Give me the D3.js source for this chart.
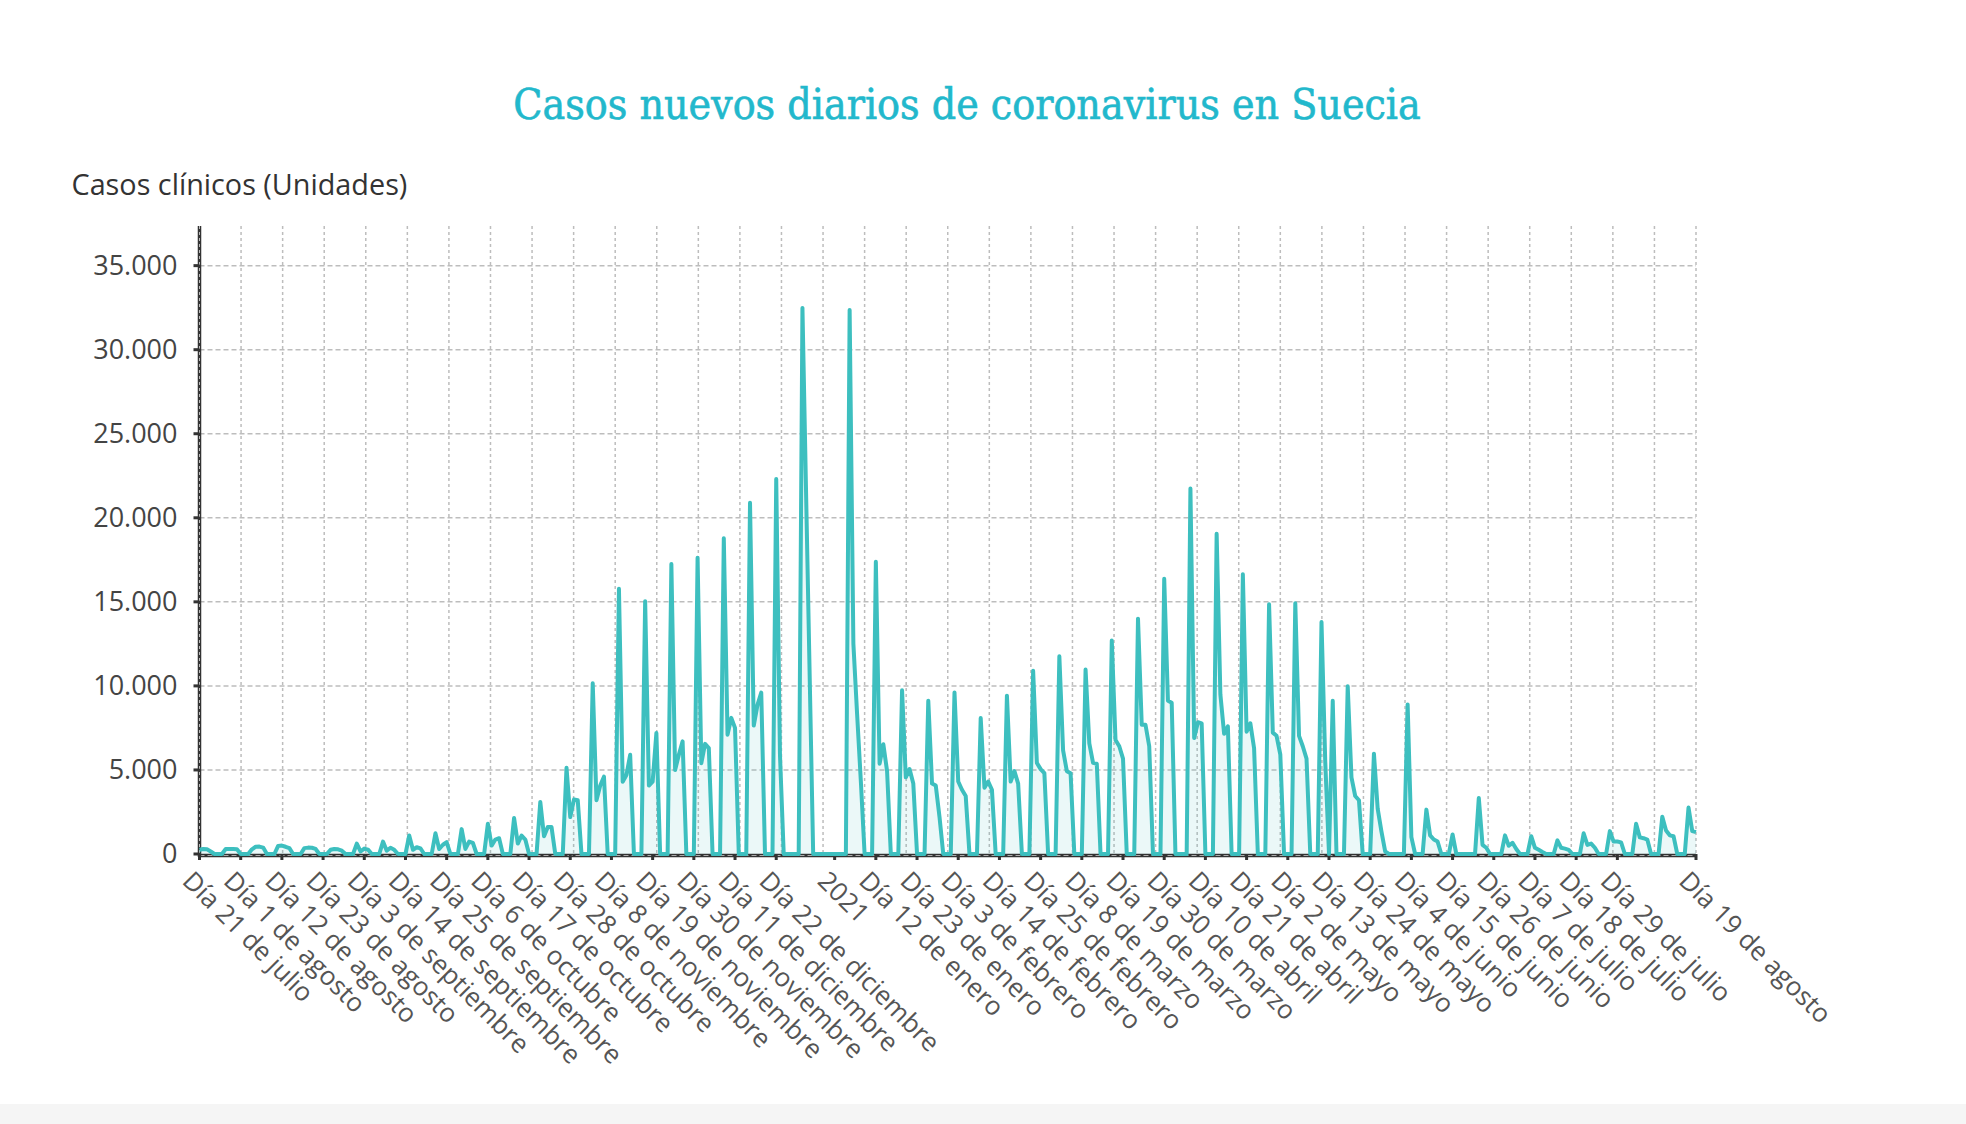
<!DOCTYPE html>
<html>
<head>
<meta charset="utf-8">
<script src="https://cdn.jsdelivr.net/npm/d3@7"></script>
<style>
    body { margin: 0; background: #fff; }
    svg { display: block; }
</style>
</head>
<body>
<svg id="chart"></svg>
<script>
// Casos nuevos diarios, uno por día desde el 21 de julio de 2020 (martes)
const startDate = "2020-07-21";
const dailyCases = [
    250, 300, 280, 150, 0, 0, 0,          // 21 jul
    300, 300, 300, 280, 0, 0, 0,
    280, 430, 440, 380, 0, 0, 0,
    480, 500, 430, 350, 0, 0, 0,
    350, 380, 370, 300, 0, 0, 0,
    250, 300, 280, 200, 0, 0, 0,
    620, 150, 320, 260, 0, 0, 0,          // 1 sep
    740, 200, 370, 250, 0, 0, 0,
    1100, 250, 400, 330, 0, 0, 0,
    1230, 300, 550, 700, 0, 0, 0,
    1480, 300, 740, 665, 0, 0, 0,
    1800, 500, 860, 940, 0, 0, 0,         // 6 oct
    2140, 620, 1100, 860, 0, 0, 0,
    3100, 1050, 1600, 1600, 0, 0, 0,
    5130, 2200, 3250, 3200, 0, 0, 0,
    10150, 3200, 4070, 4600, 0, 0, 0,     // 3 nov
    15780, 4300, 4700, 5900, 0, 0, 0,
    15040, 4070, 4300, 7200, 0, 0, 0,
    17250, 5000, 5900, 6700, 0, 0, 0,
    17625, 5400, 6550, 6300, 0, 0, 0,     // 1 dic
    18780, 7100, 8100, 7500, 0, 0, 0,
    20900, 7640, 8870, 9600, 0, 0, 0,
    22310, 5900, 0, 0, 0, 0, 0,
    32485, 0, 0, 0, 0, 0, 0,
    32365, 12520, 8300, 4300, 0, 0, 0,    // 5 ene
    17380, 5370, 6530, 4930, 0, 0, 0,
    9740, 4560, 5050, 4190, 0, 0, 0,
    9120, 4190, 4070, 2200, 0, 0, 0,
    9610, 4310, 3820, 3450, 0, 0, 0,      // 2 feb
    8085, 3940, 4310, 3820, 0, 0, 0,
    9420, 4310, 4930, 4190, 0, 0, 0,
    10900, 5420, 5050, 4810, 0, 0, 0,
    11760, 6160, 4930, 4810, 0, 0, 0,     // 2 mar
    10970, 6580, 5420, 5370, 0, 0, 0,
    12700, 6780, 6410, 5670, 0, 0, 0,
    14000, 7690, 7690, 6410, 0, 0, 0,
    16370, 9120, 9000, 0, 0, 0, 0,
    21740, 6900, 7840, 7770, 0, 0, 0,     // 6 abr
    19050, 9490, 7150, 7590, 0, 0, 0,
    16640, 7270, 7770, 6290, 0, 0, 0,
    14860, 7220, 7030, 5920, 0, 0, 0,
    14910, 7030, 6410, 5670, 0, 0, 0,     // 4 may
    13800, 5500, 0, 9120, 0, 0, 0,
    9980, 4560, 3450, 3200, 0, 0, 0,
    5970, 2700, 1350, 150, 0, 0, 0,
    0, 0, 8900, 1000, 0, 0, 0,            // 1 jun
    2640, 1110, 860, 740, 0, 0, 0,
    1160, 0, 0, 0, 0, 0, 0,
    3330, 540, 370, 0, 0, 0, 0,
    1110, 490, 665, 300, 0, 0, 0,
    1060, 370, 250, 120, 0, 0, 0,         // 6 jul
    810, 370, 320, 250, 0, 0, 0,
    1230, 540, 620, 370, 0, 0, 0,
    1360, 740, 740, 690, 0, 0, 0,
    1800, 990, 940, 860, 0, 0, 0,         // 3 ago
    2220, 1400, 1110, 1060, 0, 0, 0,
    2760, 1360, 1300                      // 17-19 ago
];

const tickDates = [
    "2020-07-21", "2020-08-01", "2020-08-12", "2020-08-23", "2020-09-03", "2020-09-14",
    "2020-09-25", "2020-10-06", "2020-10-17", "2020-10-28", "2020-11-08", "2020-11-19",
    "2020-11-30", "2020-12-11", "2020-12-22", "2021-01-01", "2021-01-12", "2021-01-23",
    "2021-02-03", "2021-02-14", "2021-02-25", "2021-03-08", "2021-03-19", "2021-03-30",
    "2021-04-10", "2021-04-21", "2021-05-02", "2021-05-13", "2021-05-24", "2021-06-04",
    "2021-06-15", "2021-06-26", "2021-07-07", "2021-07-18", "2021-07-29", "2021-08-19"
];
const tickLabels = [
    "Día 21 de julio", "Día 1 de agosto", "Día 12 de agosto", "Día 23 de agosto",
    "Día 3 de septiembre", "Día 14 de septiembre", "Día 25 de septiembre", "Día 6 de octubre",
    "Día 17 de octubre", "Día 28 de octubre", "Día 8 de noviembre", "Día 19 de noviembre",
    "Día 30 de noviembre", "Día 11 de diciembre", "Día 22 de diciembre", "2021",
    "Día 12 de enero", "Día 23 de enero", "Día 3 de febrero", "Día 14 de febrero",
    "Día 25 de febrero", "Día 8 de marzo", "Día 19 de marzo", "Día 30 de marzo",
    "Día 10 de abril", "Día 21 de abril", "Día 2 de mayo", "Día 13 de mayo",
    "Día 24 de mayo", "Día 4 de junio", "Día 15 de junio", "Día 26 de junio",
    "Día 7 de julio", "Día 18 de julio", "Día 29 de julio", "Día 19 de agosto"
];
const yTicks = [0, 5000, 10000, 15000, 20000, 25000, 30000, 35000];

const title = "Casos nuevos diarios de coronavirus en Suecia";
const yTitle = "Casos clínicos (Unidades)";

const W = 1966, H = 1124;
const margin = { top: 226, left: 199.5 };
const width = 1496.5;
const height = 628;

const teal = "#3dbfbf";
const gridColor = "#bdbdbd";
const sans = "'Open Sans', 'Noto Sans', sans-serif";

const es = d3.formatLocale({ decimal: ",", thousands: ".", grouping: [3], currency: ["", " €"] });
const fmt = es.format(",");

const parse = d3.utcParse("%Y-%m-%d");
const day0 = parse(startDate);
const data = dailyCases.map((v, i) => ({ date: d3.utcDay.offset(day0, i), value: v }));

// the original axis leaves extra room around the new-year break
const xStops = ["2020-07-21", "2020-12-29", "2021-01-01", "2021-08-19"].map(parse);
const xSlots = [0, 161, 169.6, 399.6];
const x = d3.scaleUtc()
    .domain(xStops)
    .range(xSlots.map(s => s / xSlots[xSlots.length - 1] * width));

const y = d3.scaleLinear()
    .domain([0, d3.max(dailyCases) * 1.15])
    .range([height, 0]);

// grid columns are evenly split, independent of the date ticks
const gridX = d3.scaleLinear().domain([0, 36]).range([0, width]);

const svg = d3.select("#chart").attr("width", W).attr("height", H);

svg.append("rect").attr("x", 0).attr("y", 1104).attr("width", W).attr("height", H - 1104).attr("fill", "#f5f5f5");

svg.append("text")
    .attr("class", "title")
    .attr("x", 967)
    .attr("y", 119)
    .attr("text-anchor", "middle")
    .attr("font-family", "'DejaVu Serif Condensed', 'DejaVu Serif', serif")
    .attr("font-stretch", "condensed")
    .attr("font-size", 40)
    .attr("fill", "#22b8cc")
    .attr("stroke", "#22b8cc")
    .attr("stroke-width", 0.6)
    .text(title);

svg.append("text")
    .attr("class", "ytitle")
    .attr("x", 71.5)
    .attr("y", 195)
    .attr("font-family", sans)
    .attr("font-size", 26)
    .attr("fill", "#333")
    .text(yTitle);

function fitWidth(sel, target) {
    const w = sel.node().getComputedTextLength();
    sel.attr("font-size", parseFloat(sel.attr("font-size")) * target / w);
}
fitWidth(svg.select(".title"), 908);
fitWidth(svg.select(".ytitle"), 336);

const g = svg.append("g").attr("transform", `translate(${margin.left},${margin.top})`);

// grid
g.append("g").selectAll("line").data(yTicks.filter(t => t > 0)).join("line")
    .attr("x1", 0).attr("x2", width)
    .attr("y1", d => y(d)).attr("y2", d => y(d))
    .attr("stroke", gridColor).attr("stroke-width", 1.5).attr("stroke-dasharray", "5,3");

g.append("g").selectAll("line").data(d3.range(1, 37)).join("line")
    .attr("x1", d => gridX(d)).attr("x2", d => gridX(d))
    .attr("y1", 0).attr("y2", height)
    .attr("stroke", gridColor).attr("stroke-width", 1.5).attr("stroke-dasharray", "3,3");

// axes lines
g.append("line").attr("x1", 0).attr("x2", width).attr("y1", height + 1.5).attr("y2", height + 1.5)
    .attr("stroke", "#333").attr("stroke-width", 3.5);
g.append("line").attr("x1", 0).attr("x2", width).attr("y1", height + 1.5).attr("y2", height + 1.5)
    .attr("stroke", "#aaa").attr("stroke-width", 1).attr("stroke-dasharray", "5,3");
g.append("line").attr("x1", 0).attr("x2", 0).attr("y1", 0).attr("y2", height + 3)
    .attr("stroke", "#333").attr("stroke-width", 3.5);
g.append("line").attr("x1", 0).attr("x2", 0).attr("y1", 0).attr("y2", height)
    .attr("stroke", "#bbb").attr("stroke-width", 1).attr("stroke-dasharray", "3,3");

// ticks
g.append("g").selectAll("line").data(yTicks).join("line")
    .attr("x1", -6).attr("x2", 0)
    .attr("y1", d => y(d)).attr("y2", d => y(d))
    .attr("stroke", "#333").attr("stroke-width", 3);

g.append("g").selectAll("text").data(yTicks).join("text")
    .attr("x", -22)
    .attr("y", d => y(d))
    .attr("dy", "0.35em")
    .attr("text-anchor", "end")
    .attr("font-family", sans)
    .attr("font-size", 27)
    .attr("fill", "#444")
    .text(d => fmt(d));

const xt = tickDates.map((d, i) => ({ date: parse(d), label: tickLabels[i] }));

g.append("g").selectAll("line").data(xt).join("line")
    .attr("x1", d => x(d.date)).attr("x2", d => x(d.date))
    .attr("y1", height).attr("y2", height + 6)
    .attr("stroke", "#333").attr("stroke-width", 3);

g.append("g").selectAll("text").data(xt).join("text")
    .attr("transform", d => `translate(${x(d.date)},${height + 10}) rotate(45)`)
    .attr("dy", "1em")
    .attr("text-anchor", "start")
    .attr("font-family", sans)
    .attr("font-size", 26)
    .attr("fill", "#555")
    .text(d => d.label);

// series
const area = d3.area().x(d => x(d.date)).y0(height).y1(d => y(d.value));
const line = d3.line().x(d => x(d.date)).y(d => y(d.value));

g.append("path").datum(data).attr("d", area).attr("fill", teal).attr("fill-opacity", 0.1);
g.append("path").datum(data).attr("d", line)
    .attr("fill", "none").attr("stroke", teal).attr("stroke-width", 4).attr("stroke-linejoin", "round");
</script>
</body>
</html>
